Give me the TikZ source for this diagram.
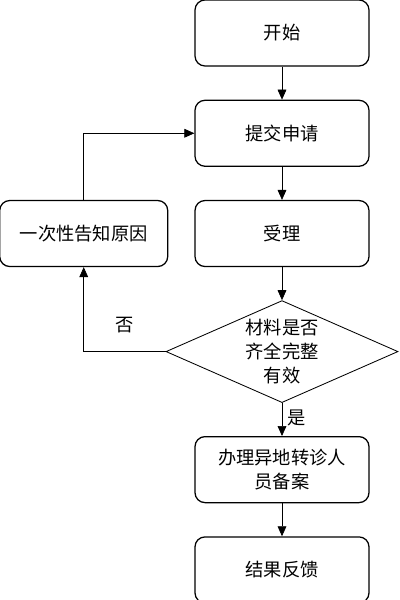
\documentclass[tikz,border=0pt]{standalone}
\usepackage{fontspec}
\setmainfont{Noto Sans CJK SC}
\usepackage{tikz}
\usetikzlibrary{arrows.meta,positioning,shapes.geometric}

\begin{document}
\begin{tikzpicture}[
    node distance=0.825cm and 0.65cm,
    every node/.style={font=\fontsize{13}{17}\selectfont},
    box/.style={draw, line width=0.9pt, rounded corners=0.25cm, align=center, minimum height=1.65cm, minimum width=4.35cm},
    decision/.style={draw, line width=0.6pt, diamond, aspect=2.27, inner xsep=0pt, inner ysep=-4pt, align=center, minimum width=5.8cm, minimum height=2.55cm},
    arr/.style={-{Triangle[length=0.25cm,width=0.22cm]}, line width=0.5pt}
]
\useasboundingbox (0,0) rectangle (10,15);
\node[box] at (7.05,14.175) (start) {开始};
\node[box, below=of start] (submit) {提交申请};
\node[box, below=of submit] (accept) {受理};
\node[box, minimum width=4.2cm, left=of accept] (notify) {一次性告知原因};
\node[decision, below=of accept] (check) {材料是否\\齐全完整\\有效};
\node[box, below=of check] (record) {办理异地转诊人\\员备案};
\node[box, below=of record] (result) {结果反馈};

\draw[arr] (start) -- (submit);
\draw[arr] (submit) -- (accept);
\draw[arr] (accept) -- (check);
\draw[arr] (check) -- node[right, pos=0.45] {是} (record);
\draw[arr] (record) -- (result);
\draw[arr] (check.west) -| node[pos=0.25, above=0.35cm] {否} (notify.south);
\draw[arr] (notify.north) |- (submit.west);
\end{tikzpicture}
\end{document}
